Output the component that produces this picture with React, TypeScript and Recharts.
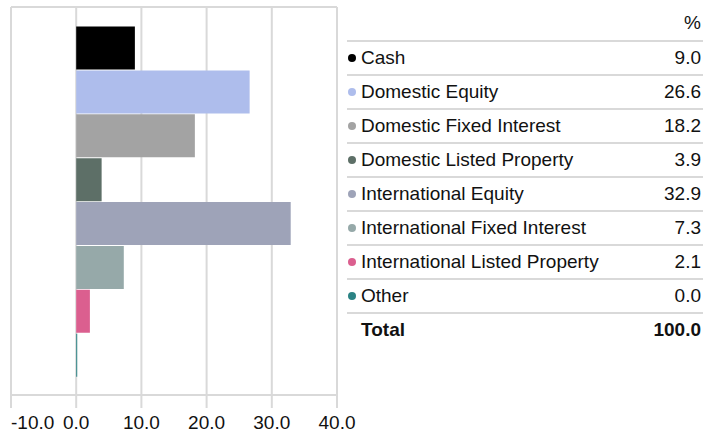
import { BarChart, Bar, XAxis, YAxis, CartesianGrid, Cell } from 'recharts';

const CATEGORIES = [
  'Cash',
  'Domestic Equity',
  'Domestic Fixed Interest',
  'Domestic Listed Property',
  'International Equity',
  'International Fixed Interest',
  'International Listed Property',
  'Other',
];
const VALUES = [9.0, 26.6, 18.2, 3.9, 32.9, 7.3, 2.1, 0.0];
const COLORS = ['#000000', '#aebdec', '#a3a3a3', '#5d6f67', '#9ea3b8', '#96a9a9', '#db5f8f', '#2b8384'];
const X_TICKS = [-10, 0, 10, 20, 30, 40];
const TOTAL_LABEL = 'Total';
const TOTAL_VALUE = '100.0';

const FONT = '"Liberation Sans", Arial, sans-serif';
const GRID = '#d9d9d9';

const data = CATEGORIES.map((name, i) => ({ name, value: VALUES[i] }));

function XTick(props: any) {
  const { x, y, payload, index } = props;
  return (
    <text
      x={x}
      y={y}
      dy={19}
      textAnchor={index === 0 ? 'start' : 'middle'}
      fontSize={19}
      fontFamily={FONT}
      fill="#111"
    >
      {Number(payload.value).toFixed(1)}
    </text>
  );
}

export default function App() {
  const xMin = X_TICKS[0];
  const xMax = X_TICKS[X_TICKS.length - 1];
  return (
    <div style={{ position: 'absolute', left: 0, top: 0, width: 704, height: 432, background: '#fff', fontFamily: FONT }}>
      <BarChart
        width={362}
        height={432}
        data={data}
        layout="vertical"
        barCategoryGap={0.5}
        margin={{ top: 6, right: 25, bottom: 0, left: 10 }}
      >
        <CartesianGrid horizontal={false} stroke={GRID} strokeWidth={2} />
        <XAxis
          type="number"
          domain={[xMin, xMax]}
          ticks={X_TICKS}
          interval={0}
          height={37}
          tickSize={13}
          tickLine={{ stroke: GRID, strokeWidth: 2 }}
          axisLine={{ stroke: GRID, strokeWidth: 2 }}
          tick={<XTick />}
        />
        {/* top edge of the plot box */}
        <XAxis
          xAxisId="top"
          orientation="top"
          type="number"
          domain={[xMin, xMax]}
          height={1}
          tick={false}
          tickLine={false}
          axisLine={{ stroke: GRID, strokeWidth: 2 }}
        />
        {/* left edge of the plot box */}
        <YAxis
          type="category"
          dataKey="name"
          width={1}
          tick={false}
          tickLine={false}
          axisLine={{ stroke: GRID, strokeWidth: 2 }}
          padding={{ top: 19, bottom: 18 }}
        />
        <Bar dataKey="value" minPointSize={1} isAnimationActive={false}>
          {data.map((_, i) => (
            <Cell key={i} fill={COLORS[i]} />
          ))}
        </Bar>
      </BarChart>

      <div style={{ position: 'absolute', left: 347, top: 6, width: 356, fontSize: 19, color: '#111' }}>
        <div style={{ height: 34, display: 'flex', alignItems: 'center', justifyContent: 'flex-end', paddingRight: 2 }}>
          %
        </div>
        {CATEGORIES.map((name, i) => (
          <div
            key={name}
            style={{
              height: 34,
              boxSizing: 'border-box',
              borderTop: `2px solid ${GRID}`,
              display: 'flex',
              alignItems: 'center',
              paddingRight: 2,
            }}
          >
            <span
              style={{
                width: 8,
                height: 8,
                borderRadius: '50%',
                background: COLORS[i],
                marginLeft: 1,
                marginRight: 5,
                flex: 'none',
              }}
            />
            <span style={{ flex: 1 }}>{name}</span>
            <span>{VALUES[i].toFixed(1)}</span>
          </div>
        ))}
        <div
          style={{
            height: 34,
            boxSizing: 'border-box',
            borderTop: `2px solid ${GRID}`,
            display: 'flex',
            alignItems: 'center',
            paddingRight: 2,
            fontWeight: 'bold',
          }}
        >
          <span style={{ flex: 1, paddingLeft: 14 }}>{TOTAL_LABEL}</span>
          <span>{TOTAL_VALUE}</span>
        </div>
      </div>
    </div>
  );
}
